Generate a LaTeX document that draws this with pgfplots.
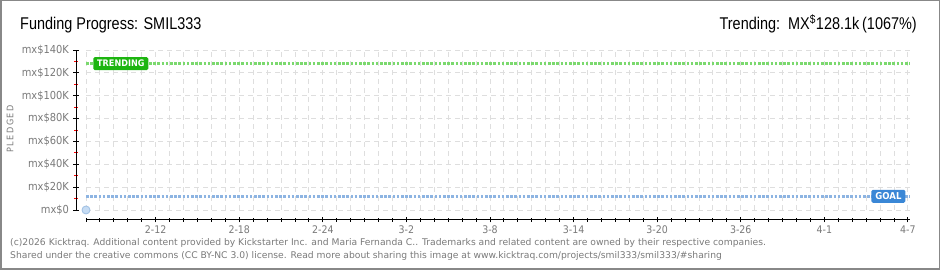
\documentclass[border=0pt]{standalone}
\usepackage{pgfplots}
\pgfplotsset{compat=1.18}
\usepackage{fontspec}
\setmainfont{Liberation Sans}
\newfontfamily\titlefont[FakeStretch=0.85]{Liberation Sans}
\newfontfamily\footfont{DejaVu Sans}
\newfontfamily\tickfont[FakeStretch=0.9]{DejaVu Sans}
\definecolor{gridc}{HTML}{DEDEDE}
\definecolor{txtc}{HTML}{7A7A7A}
\definecolor{goalc}{HTML}{8DB4E2}
\definecolor{trendc}{HTML}{7BD96E}
\definecolor{goalbox}{HTML}{3A87D6}
\definecolor{trendbox}{HTML}{1DB510}
\definecolor{ptfill}{HTML}{C6DCF4}
\definecolor{ptdraw}{HTML}{9EBFE3}
\definecolor{bord}{HTML}{888888}
\begin{document}
\begin{tikzpicture}[x=1pt,y=1pt]
\path[use as bounding box] (0,0) rectangle (940,270);
\fill[white] (0,0) rectangle (940,270);
\draw[color=bord, line width=1.5] (0.75,0.75) rectangle (939.25,269.25);
\node[anchor=base west, inner sep=0] at (20,240) {\titlefont\fontsize{17}{18}\selectfont Funding Progress: SMIL333};
\node[anchor=base east, inner sep=0] at (917,240) {\titlefont\fontsize{17}{18}\selectfont Trending:\ \ MX\textsuperscript{\$}128.1k\,(1067\%)};
\node[rotate=90, text=txtc, inner sep=0] at (10,141) {\tickfont\fontsize{9}{10}\selectfont P\,L\,E\,D\,G\,E\,D};
\node[anchor=base west, inner sep=0, text=txtc, align=left] at (10,24) {\footfont\fontsize{9.2}{12.5}\selectfont (c)2026 Kicktraq. Additional content provided by Kickstarter Inc. and Maria Fernanda C.. Trademarks and related content are owned by their respective companies.};
\node[anchor=base west, inner sep=0, text=txtc, align=left] at (10,11.5) {\footfont\fontsize{9.2}{12.5}\selectfont Shared under the creative commons (CC BY-NC 3.0) license. Read more about sharing this image at www.kicktraq.com/projects/smil333/smil333/\#sharing};
\begin{axis}[
  at={(86pt,60pt)}, anchor=south west,
  scale only axis, width=824pt, height=160pt,
  xmin=0, xmax=59.15, ymin=0, ymax=140000,
  clip=false,
  axis x line*=bottom, axis y line*=left,
  axis line style={-, black, line width=1pt},
  every outer x axis line/.append style={yshift=-10pt},
  every outer y axis line/.append style={xshift=-10pt, shorten <=-1pt},
  x tick style={yshift=-10pt, black, line width=0.9pt},
  y tick style={xshift=-10pt, black, line width=0.9pt},
  minor y tick style={red, line width=0.9pt},
  tick align=center, major tick length=5pt, minor tick length=4pt,
  xtick={5,11,17,23,29,35,41,47,53,59},
  xticklabels={2-12,2-18,2-24,3-2,3-8,3-14,3-20,3-26,4-1,4-7},
  minor xtick={0,...,59},
  ytick={0,20000,40000,60000,80000,100000,120000,140000},
  yticklabels={mx\$0,mx\$20K,mx\$40K,mx\$60K,mx\$80K,mx\$100K,mx\$120K,mx\$140K},
  minor ytick={10000,30000,50000,70000,90000,110000,130000},
  scaled y ticks=false,
  xticklabel style={yshift=-10pt, text=txtc, font=\tickfont\fontsize{10.5}{11}\selectfont},
  yticklabel style={xshift=-11pt, text=txtc, font=\tickfont\fontsize{11}{12}\selectfont},
  xmajorgrids, xminorgrids, ymajorgrids,
  major grid style={gridc, line width=0.9pt, dash pattern=on 5pt off 4pt},
  minor grid style={gridc, line width=0.9pt, dash pattern=on 5pt off 4pt},
]
\addplot[goalc, line width=2.5pt, dash pattern=on 2.6pt off 1.6pt] coordinates {(0,12000) (59.15,12000)};
\addplot[trendc, line width=2.5pt, dash pattern=on 2.6pt off 1.6pt] coordinates {(0,128100) (59.15,128100)};
\addplot[only marks, mark=*, mark size=4pt, mark options={fill=ptfill, draw=ptdraw, line width=0.8pt}] coordinates {(0,0)};
\node[fill=trendbox, text=white, rounded corners=1.5pt, minimum width=55pt, minimum height=13pt, inner sep=0, font=\tickfont\bfseries\fontsize{9}{10}\selectfont] at (axis cs:2.5,128100) {TRENDING};
\node[fill=goalbox, text=white, rounded corners=1.5pt, minimum width=34pt, minimum height=13pt, inner sep=0, font=\tickfont\bfseries\fontsize{9.5}{10}\selectfont] at (axis cs:57.6,12000) {GOAL};
\end{axis}
\end{tikzpicture}
\end{document}
